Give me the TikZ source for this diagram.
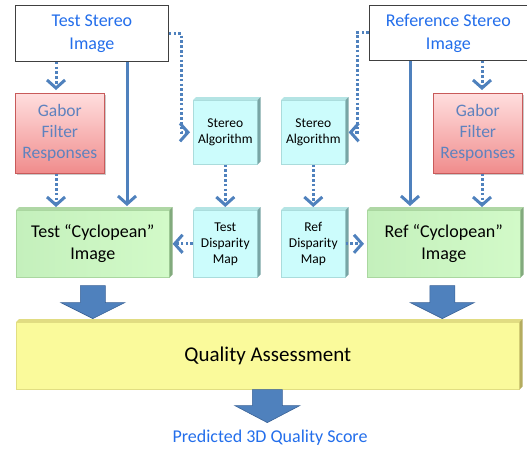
\documentclass[tikz,border=0pt]{standalone}
\usepackage{fontspec}
\setmainfont{Carlito}
\usetikzlibrary{arrows.meta,shadows}

\definecolor{linkblue}{RGB}{79,129,189}
\definecolor{titleblue}{RGB}{35,110,235}
\definecolor{gabortext}{RGB}{95,130,190}
\definecolor{gabortop}{RGB}{255,222,222}
\definecolor{gaborbot}{RGB}{240,140,140}
\definecolor{gaborline}{RGB}{200,90,90}
\definecolor{cyanfill}{RGB}{204,252,252}
\definecolor{cyanline}{RGB}{170,220,220}
\definecolor{cyantop}{RGB}{180,228,228}
\definecolor{cyanside}{RGB}{120,165,165}
\definecolor{greenL}{RGB}{196,240,188}
\definecolor{greenR}{RGB}{210,250,200}
\definecolor{greenline}{RGB}{170,215,160}
\definecolor{greentop}{RGB}{175,215,165}
\definecolor{greenside}{RGB}{130,170,125}
\definecolor{yellowfill}{RGB}{250,250,155}
\definecolor{yellowline}{RGB}{225,222,130}
\definecolor{yellowtop}{RGB}{225,220,130}
\definecolor{yellowside}{RGB}{180,172,95}
\definecolor{arrowedge}{RGB}{58,98,150}

% extruded top and right faces of a flat box
\newcommand{\boxdepth}[3]{%
  \fill[#2] (#1.north west) -- ++(3,-3) -- ([shift={(3,-3)}]#1.north east) -- (#1.north east) -- cycle;
  \fill[#3] (#1.north east) -- ++(3,-3) -- ([shift={(3,-3)}]#1.south east) -- (#1.south east) -- cycle;
}

\tikzset{
  base/.style={anchor=north west, inner sep=0pt, align=center},
  imgbox/.style={base, draw=black!75, line width=0.8pt, fill=white, text=titleblue,
    font=\fontsize{18}{23}\selectfont},
  gaborbox/.style={base, draw=gaborline, line width=0.6pt, top color=gabortop, bottom color=gaborbot,
    text=gabortext, font=\fontsize{17.5}{21}\selectfont,
    drop shadow={shadow xshift=2pt, shadow yshift=-2pt, opacity=0.35, fill=black!60}},
  cyanbox/.style={base, draw=cyanline, line width=0.6pt, fill=cyanfill, minimum width=64pt,
    font=\fontsize{13.5}{16}\selectfont},
  greenbox/.style={base, draw=greenline, line width=0.6pt, left color=greenL, right color=greenR,
    minimum width=153pt, minimum height=67pt, font=\fontsize{18}{22}\selectfont},
  yellowbox/.style={base, draw=yellowline, line width=0.6pt, fill=yellowfill,
    font=\fontsize{21}{24}\selectfont},
  tipV/.style={-{Straight Barb[length=8pt,width=18pt]}},
  solidlink/.style={tipV, draw=linkblue, line width=3pt, shorten >=4pt},
  dotlink/.style={tipV, draw=linkblue, line width=3pt, dash pattern=on 2.6pt off 2.2pt, shorten >=3pt},
  bigarrow/.style={fill=linkblue, draw=arrowedge, line width=0.6pt, line join=miter},
}

\begin{document}
\begin{tikzpicture}[x=1pt, y=-1pt]
\useasboundingbox (0,0) rectangle (527,450);

% input images
\node[imgbox, minimum width=153pt, minimum height=56pt] (tsi) at (15,5) {Test Stereo\\Image};
\node[imgbox, minimum width=158pt, minimum height=55pt] (rsi) at (369,5) {Reference Stereo\\Image};

% Gabor filter banks
\node[gaborbox, minimum width=89pt, minimum height=80pt] (gl) at (15,93) {Gabor\\Filter\\Responses};
\node[gaborbox, minimum width=89pt, minimum height=80pt] (gr) at (433,93) {Gabor\\Filter\\Responses};

% stereo matching and disparity maps
\node[cyanbox, minimum height=64pt] (sal) at (193,100) {Stereo\\Algorithm};
\node[cyanbox, minimum height=64pt] (sar) at (281,100) {Stereo\\Algorithm};
\node[cyanbox, minimum height=67pt] (tdm) at (193,210) {Test\\Disparity\\Map};
\node[cyanbox, minimum height=67pt] (rdm) at (281,210) {Ref\\Disparity\\Map};
\boxdepth{sal}{cyantop}{cyanside}
\boxdepth{sar}{cyantop}{cyanside}
\boxdepth{tdm}{cyantop}{cyanside}
\boxdepth{rdm}{cyantop}{cyanside}

% cyclopean images
\node[greenbox] (tc) at (16,210) {Test “Cyclopean”\\Image};
\node[greenbox] (rc) at (367,210) {Ref “Cyclopean”\\Image};
\boxdepth{tc}{greentop}{greenside}
\boxdepth{rc}{greentop}{greenside}

% quality assessment
\node[yellowbox, minimum width=503pt, minimum height=67pt] (qa) at (16,322) {Quality Assessment};
\boxdepth{qa}{yellowtop}{yellowside}

\node[text=titleblue, font=\fontsize{18}{20}\selectfont] (score) at (270,438) {Predicted 3D Quality Score};

% guide positions for the vertical links
\coordinate (xl) at (127,0);
\coordinate (xr) at (410,0);
\coordinate (gxl) at (56,0);
\coordinate (gxr) at (482,0);
\coordinate (kl) at (181,0);
\coordinate (kr) at (357,0);

% left branch
\draw[solidlink] (tsi.south -| xl) -- (tc.north -| xl);
\draw[dotlink] (tsi.south -| gxl) -- (gl.north -| gxl);
\draw[dotlink] (gl.south -| gxl) -- (tc.north -| gxl);
\draw[dotlink] (tsi.east) -- (tsi.east -| kl) -- (kl |- sal.west) -- (sal.west);
\draw[dotlink] (sal.south) -- (tdm.north);
\draw[dotlink] (tdm.west) -- (tc.east);

% right branch
\draw[solidlink] (rsi.south -| xr) -- (rc.north -| xr);
\draw[dotlink] (rsi.south -| gxr) -- (gr.north -| gxr);
\draw[dotlink] (gr.south -| gxr) -- (rc.north -| gxr);
\draw[dotlink] (rsi.west) -- (rsi.west -| kr) -- (kr |- sar.east) -- (sar.east);
\draw[dotlink] (sar.south) -- (rdm.north);
\draw[dotlink] (rdm.east) -- (rc.west);

% block arrows
\draw[bigarrow] (tc.south) ++(-12.5,8) -- ++(25,0) -- ++(0,17) -- ++(19.5,0) -- ++(-32,16) -- ++(-32,-16) -- ++(19.5,0) -- cycle;
\draw[bigarrow] (rc.south) ++(-14,8) -- ++(25,0) -- ++(0,17) -- ++(19.5,0) -- ++(-32,16) -- ++(-32,-16) -- ++(19.5,0) -- cycle;
\draw[bigarrow] (qa.south) ++(-15.5,0) -- ++(30,0) -- ++(0,16) -- ++(17.5,0) -- ++(-32.5,17) -- ++(-32.5,-17) -- ++(17.5,0) -- cycle;
\end{tikzpicture}
\end{document}
